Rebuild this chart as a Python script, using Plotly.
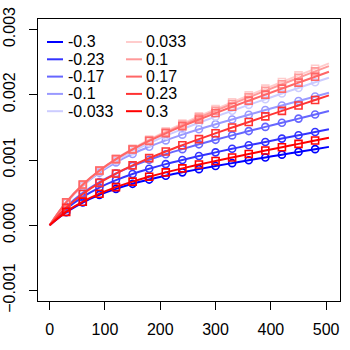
import plotly.graph_objects as go

# x positions of the fitted curves; observed points sit at 30..480
x_vals = [0, 30, 60, 90, 120, 150, 180, 210, 240, 270, 300, 330, 360, 390, 420, 450, 480, 505]

labels = ["-0.3", "-0.23", "-0.17", "-0.1", "-0.033", "0.033", "0.1", "0.17", "0.23", "0.3"]
colors = ["#0000FF", "#3333FF", "#6666FF", "#9999FF", "#CCCCFF",
          "#FFCCCC", "#FF9999", "#FF6666", "#FF3333", "#FF0000"]

y_m300 = [0, 0.000199, 0.000349, 0.000465, 0.000558, 0.000635, 0.000700, 0.000758, 0.000811,
          0.000860, 0.000907, 0.000952, 0.000996, 0.001039, 0.001082, 0.001124, 0.001166, 0.001201]
y_m230 = [0, 0.000248, 0.000434, 0.000578, 0.000692, 0.000786, 0.000866, 0.000937, 0.001001,
          0.001061, 0.001117, 0.001172, 0.001225, 0.001276, 0.001328, 0.001378, 0.001429, 0.001471]
y_m170 = [0, 0.000282, 0.000496, 0.000662, 0.000796, 0.000907, 0.001003, 0.001088, 0.001166,
          0.001240, 0.001309, 0.001377, 0.001443, 0.001507, 0.001571, 0.001634, 0.001697, 0.001750]
y_m100 = [0, 0.000346, 0.000605, 0.000804, 0.000963, 0.001093, 0.001203, 0.001300, 0.001388,
          0.001470, 0.001547, 0.001621, 0.001694, 0.001765, 0.001835, 0.001904, 0.001973, 0.002030]
y_m033 = [0, 0.000347, 0.000611, 0.000820, 0.000989, 0.001133, 0.001257, 0.001370, 0.001473,
          0.001571, 0.001664, 0.001755, 0.001844, 0.001931, 0.002018, 0.002104, 0.002190, 0.002261]
y_p033 = [0, 0.000349, 0.000620, 0.000838, 0.001019, 0.001175, 0.001313, 0.001440, 0.001558,
          0.001671, 0.001779, 0.001885, 0.001990, 0.002093, 0.002195, 0.002296, 0.002397, 0.002481]
y_p100 = [0, 0.000347, 0.000617, 0.000832, 0.001011, 0.001164, 0.001300, 0.001424, 0.001539,
          0.001649, 0.001755, 0.001859, 0.001960, 0.002060, 0.002160, 0.002259, 0.002357, 0.002439]
y_p170 = [0, 0.000353, 0.000624, 0.000838, 0.001013, 0.001161, 0.001292, 0.001409, 0.001518,
          0.001621, 0.001719, 0.001815, 0.001909, 0.002002, 0.002093, 0.002185, 0.002275, 0.002351]
y_p230 = [0, 0.000268, 0.000479, 0.000649, 0.000792, 0.000917, 0.001028, 0.001131, 0.001227,
          0.001320, 0.001409, 0.001497, 0.001583, 0.001668, 0.001752, 0.001836, 0.001920, 0.001990]
y_p300 = [0, 0.000205, 0.000361, 0.000484, 0.000585, 0.000669, 0.000743, 0.000810, 0.000872,
          0.000930, 0.000985, 0.001039, 0.001092, 0.001145, 0.001196, 0.001247, 0.001298, 0.001341]

series = [y_m300, y_m230, y_m170, y_m100, y_m033, y_p033, y_p100, y_p170, y_p230, y_p300]

x_ticks = [0, 100, 200, 300, 400, 500]
y_ticks = [-0.001, 0.0, 0.001, 0.002, 0.003]

FONT = "Liberation Sans, Arial, sans-serif"

# plot area in pixels (350x350 canvas)
L, R, T, B = 38, 340, 19, 301


def px_x(px):
    return (px - L) / (R - L)


def px_y(py):
    return (B - py) / (B - T)


fig = go.Figure()

for lab, col, ys in zip(labels, colors, series):
    symbol = "circle-open" if lab.startswith("-") else "square-open"
    fig.add_trace(go.Scatter(
        x=x_vals, y=ys, mode="lines",
        line=dict(color=col, width=2, shape="spline"),
        showlegend=False, name=lab,
    ))
    fig.add_trace(go.Scatter(
        x=x_vals[1:-1], y=ys[1:-1], mode="markers",
        marker=dict(symbol=symbol, size=7, color=col, line=dict(color=col, width=1.6)),
        showlegend=False, name=lab,
    ))

# two-column legend drawn like R's legend(ncol=2, bty="n")
row_y = [42, 59.3, 76.6, 93.9, 111.2]
shapes = []
annotations = []
for i, (lab, col) in enumerate(zip(labels, colors)):
    colno, row = divmod(i, 5)
    lx0, lx1, tx = (47, 63, 66) if colno == 0 else (126, 142, 144)
    shapes.append(dict(type="line", xref="paper", yref="paper",
                       x0=px_x(lx0), x1=px_x(lx1), y0=px_y(row_y[row]), y1=px_y(row_y[row]),
                       line=dict(color=col, width=2)))
    annotations.append(dict(text=lab, xref="paper", yref="paper",
                            x=px_x(tx), y=px_y(row_y[row]), xanchor="left", yanchor="middle",
                            showarrow=False, font=dict(size=16, color="black", family=FONT)))

fig.update_layout(
    width=350, height=350,
    margin=dict(l=L, r=350 - R, t=T, b=350 - B),
    plot_bgcolor="white", paper_bgcolor="white",
    font=dict(family=FONT, size=16, color="black"),
    shapes=shapes, annotations=annotations,
    xaxis=dict(
        range=[-21, 525], tickvals=x_ticks, ticks="outside", ticklen=8,
        tickcolor="black", showgrid=False, zeroline=False,
        showline=True, mirror=True, linecolor="black", linewidth=1,
        ticklabelstandoff=6, automargin=False,
    ),
    yaxis=dict(
        range=[-0.00116, 0.00316], tickvals=y_ticks, tickformat=".3f",
        ticks="outside", ticklen=8, tickcolor="black", tickangle=-90,
        showgrid=False, zeroline=False,
        showline=True, mirror=True, linecolor="black", linewidth=1,
        ticklabelstandoff=8, automargin=False,
    ),
)

# drop the default body margin so the figure sits at the page corner
fig.write_html(
    "out.html",
    config={"displayModeBar": False},
    post_script="document.body.style.margin = '0';",
)
